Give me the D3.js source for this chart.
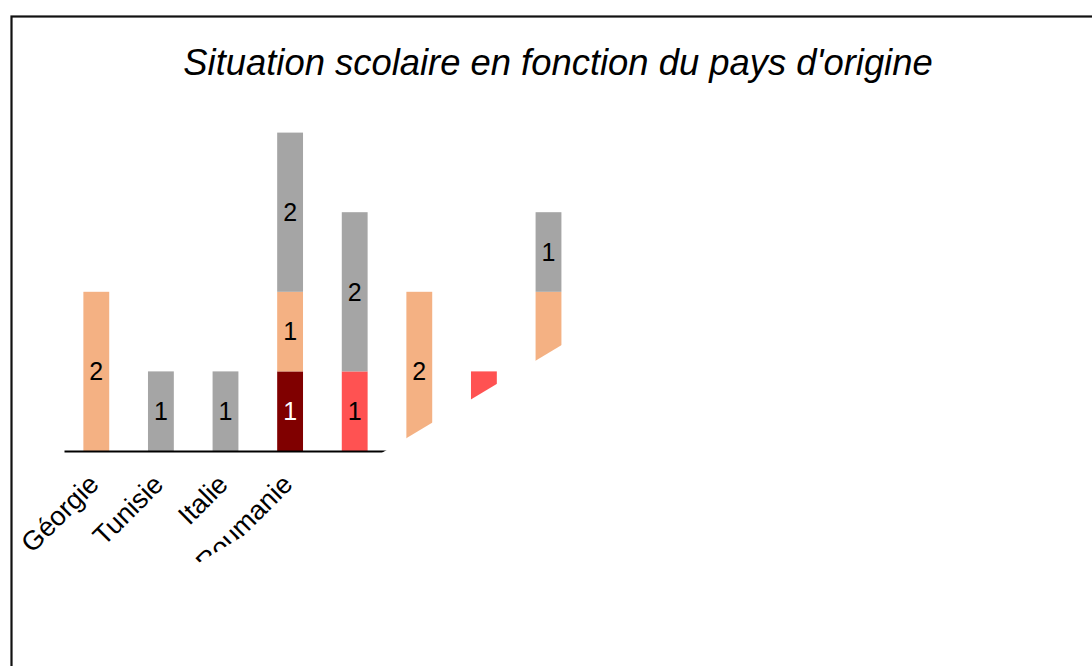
<!DOCTYPE html>
<html>
<head>
<meta charset="utf-8">
<script src="https://cdn.jsdelivr.net/npm/d3@7"></script>
<style>
  html, body { margin: 0; padding: 0; background: #fff; }
  svg { display: block; }
</style>
</head>
<body>
<script>
// Countries along the x axis (the last four have no visible label)
const categories = ["Géorgie", "Tunisie", "Italie", "Roumanie", "", "", "", ""];

// Stacked series, bottom to top
const serie1 = [0, 0, 0, 1, 0, 0, 0, 0];
const serie2 = [0, 0, 0, 0, 1, 0, 1, 0];
const serie3 = [2, 0, 0, 1, 0, 2, 0, 2];
const serie4 = [0, 1, 1, 2, 2, 0, 0, 1];

const seriesKeys = ["serie1", "serie2", "serie3", "serie4"];
const seriesColors = ["#800000", "#ff5252", "#f4b183", "#a5a5a5"];
const labelColors = ["#ffffff", "#000000", "#000000", "#000000"];

const title = "Situation scolaire en fonction du pays d'origine";

const W = 1092, H = 666;
const FONT = "'Liberation Sans', Arial, sans-serif";

const rows = categories.map((c, i) => ({
  idx: i, name: c,
  serie1: serie1[i], serie2: serie2[i], serie3: serie3[i], serie4: serie4[i]
}));

const svg = d3.select("body").append("svg")
  .attr("width", W).attr("height", H);

// outer frame
svg.append("rect")
  .attr("x", 11.5).attr("y", 16.5)
  .attr("width", W + 100).attr("height", H + 100)
  .attr("fill", "none").attr("stroke", "#111").attr("stroke-width", 2.2);

svg.append("text")
  .attr("x", 558).attr("y", 75)
  .attr("text-anchor", "middle")
  .attr("font-family", FONT).attr("font-style", "italic")
  .attr("font-size", 36.4).attr("fill", "#000")
  .text(title);

// slanted clip: everything above a line rising at ~31° through the pivot
const pivot = [385, 451], slope = 0.6, far = 3000;
svg.append("defs").append("clipPath").attr("id", "reveal")
  .append("polygon")
  .attr("points", [
    [pivot[0] - far, pivot[1] + far * slope],
    [pivot[0] + far, pivot[1] - far * slope],
    [pivot[0] + far, -far],
    [pivot[0] - far, -far]
  ].map(p => p.join(",")).join(" "));

const plot = svg.append("g").attr("clip-path", "url(#reveal)");

const x = d3.scaleBand()
  .domain(d3.range(categories.length))
  .range([64, 64 + 64.6 * categories.length])
  .paddingInner(0.6).paddingOuter(0.3);

const y = d3.scaleLinear().domain([0, 4]).range([451, 132.6]);

const stacked = d3.stack().keys(seriesKeys)(rows);

stacked.forEach((layer, li) => {
  const g = plot.append("g");
  g.selectAll("rect")
    .data(layer.filter(d => d[1] - d[0] > 0))
    .join("rect")
    .attr("x", d => x(d.data.idx))
    .attr("width", x.bandwidth())
    .attr("y", d => y(d[1]))
    .attr("height", d => y(d[0]) - y(d[1]))
    .attr("fill", seriesColors[li]);
  g.selectAll("text")
    .data(layer.filter(d => d[1] - d[0] > 0))
    .join("text")
    .attr("x", d => x(d.data.idx) + x.bandwidth() / 2)
    .attr("y", d => (y(d[0]) + y(d[1])) / 2)
    .attr("dy", "0.35em")
    .attr("text-anchor", "middle")
    .attr("font-family", FONT).attr("font-size", 25)
    .attr("fill", labelColors[li])
    .text(d => d.data[seriesKeys[li]]);
});

const axis = plot.append("g")
  .attr("transform", `translate(0,${y(0)})`)
  .call(d3.axisBottom(x).tickSize(0).tickSizeOuter(0)
    .tickFormat(i => categories[i]));

axis.select(".domain").attr("stroke", "#000").attr("stroke-width", 2.2);
axis.selectAll(".tick text")
  .attr("font-family", FONT).attr("font-size", 27).attr("fill", "#000")
  .attr("text-anchor", "end")
  .attr("y", null).attr("dy", null)
  .attr("transform", "translate(4,35) rotate(-45)");
</script>
</body>
</html>
